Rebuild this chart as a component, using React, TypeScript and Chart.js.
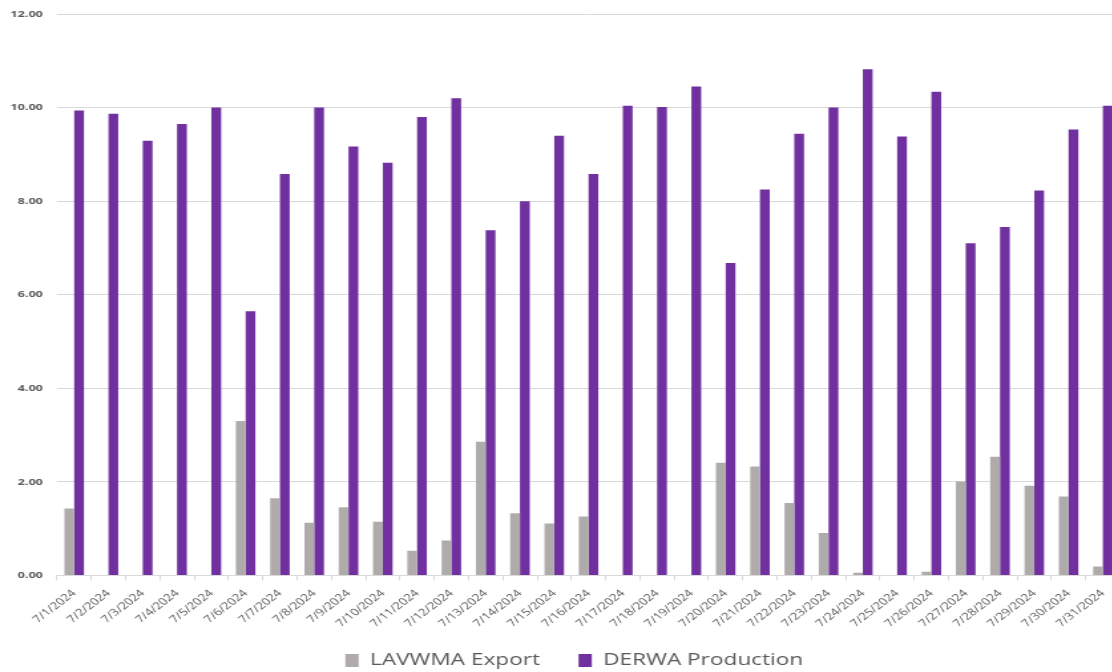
import React, { useEffect, useRef } from "react";
import { Chart, registerables } from "chart.js";

Chart.register(...registerables);

const categories = [
  "7/1/2024", "7/2/2024", "7/3/2024", "7/4/2024", "7/5/2024", "7/6/2024", "7/7/2024",
  "7/8/2024", "7/9/2024", "7/10/2024", "7/11/2024", "7/12/2024", "7/13/2024", "7/14/2024",
  "7/15/2024", "7/16/2024", "7/17/2024", "7/18/2024", "7/19/2024", "7/20/2024", "7/21/2024",
  "7/22/2024", "7/23/2024", "7/24/2024", "7/25/2024", "7/26/2024", "7/27/2024", "7/28/2024",
  "7/29/2024", "7/30/2024", "7/31/2024",
];

const lavwmaExport = [
  1.43, 0, 0, 0, 0, 3.3, 1.65, 1.13, 1.46, 1.15, 0.53, 0.75, 2.86, 1.33, 1.11, 1.26,
  0, 0, 0, 2.41, 2.33, 1.55, 0.91, 0.06, 0, 0.08, 2.01, 2.54, 1.92, 1.69, 0.19,
];

const derwaProduction = [
  9.94, 9.87, 9.29, 9.65, 10.0, 5.65, 8.58, 10.0, 9.17, 8.82, 9.8, 10.2, 7.38, 8.0, 9.4, 8.58,
  10.04, 10.01, 10.45, 6.68, 8.25, 9.44, 10.0, 10.82, 9.38, 10.34, 7.1, 7.45, 8.23, 9.53, 10.04,
];

const yMin = 0;
const yMax = 12;
const yStep = 2;

const GRAY = "#AFABAB";
const PURPLE = "#7030A0";
const TEXT = "#595959";
const GRID = "#D9D9D9";

// The reference picture is horizontally stretched; the chart is drawn on a
// narrower canvas and shown wider with CSS.
const RENDER_W = 844;
const RENDER_H = 679;
const SHOW_W = 1122;

const Y_FONT = "bold 9.5px 'Open Sans', sans-serif";
const PLOT_LEFT = 42.9;
const PAD_LEFT = 21.5;
const Y_LABEL_GAP = 10.6;

export default function App() {
  const canvasRef = useRef<HTMLCanvasElement | null>(null);

  useEffect(() => {
    if (!canvasRef.current) return;
    const mctx = document.createElement("canvas").getContext("2d")!;
    mctx.font = Y_FONT;
    const widest = Math.max(
      ...Array.from({ length: (yMax - yMin) / yStep + 1 }, (_, i) =>
        mctx.measureText((yMin + i * yStep).toFixed(2)).width
      )
    );

    const chart = new Chart(canvasRef.current, {
      type: "bar",
      data: {
        labels: categories,
        datasets: [
          {
            label: "LAVWMA Export",
            data: lavwmaExport,
            backgroundColor: GRAY,
            categoryPercentage: 0.57,
            barPercentage: 1,
          },
          {
            label: "DERWA Production",
            data: derwaProduction,
            backgroundColor: PURPLE,
            categoryPercentage: 0.57,
            barPercentage: 1,
          },
        ],
      },
      options: {
        responsive: false,
        animation: false,
        layout: { padding: { left: PAD_LEFT, right: 1.5, top: 14, bottom: 0 } },
        plugins: {
          tooltip: { enabled: false },
          legend: {
            position: "bottom",
            labels: {
              boxWidth: 10,
              boxHeight: 13,
              padding: 29,
              color: TEXT,
              font: { family: "'Open Sans', sans-serif", size: 17 },
            },
          },
        },
        scales: {
          x: {
            grid: {
              offset: true,
              drawOnChartArea: false,
              drawTicks: true,
              tickLength: 5,
              color: GRID,
            },
            border: { display: true, color: GRID },
            ticks: {
              minRotation: 45,
              maxRotation: 45,
              autoSkip: false,
              mirror: true,
              padding: -20.5,
              labelOffset: 8.5,
              color: TEXT,
              font: { family: "'Open Sans', sans-serif", size: 10 },
            },
            afterFit: (scale: any) => {
              scale.height = 47.5;
            },
          },
          y: {
            min: yMin,
            max: yMax,
            grid: { color: GRID, drawTicks: false },
            border: { display: false },
            ticks: {
              stepSize: yStep,
              mirror: true,
              crossAlign: "far",
              padding: -(Y_LABEL_GAP + widest),
              color: TEXT,
              font: { family: "'Open Sans', sans-serif", size: 9.5, weight: "bold" },
              callback: (v: any) => Number(v).toFixed(2),
            },
            afterFit: (scale: any) => {
              scale.width = PLOT_LEFT - PAD_LEFT;
            },
          },
        },
      },
    });
    return () => chart.destroy();
  }, []);

  return (
    <div
      style={{
        position: "fixed",
        left: 0,
        top: 0,
        width: 1112,
        height: 672,
        overflow: "hidden",
        background: "#fff",
      }}
    >
      <canvas
        ref={canvasRef}
        width={RENDER_W}
        height={RENDER_H}
        style={{ position: "absolute", left: 0, top: 0, width: SHOW_W, height: RENDER_H }}
      />
    </div>
  );
}
